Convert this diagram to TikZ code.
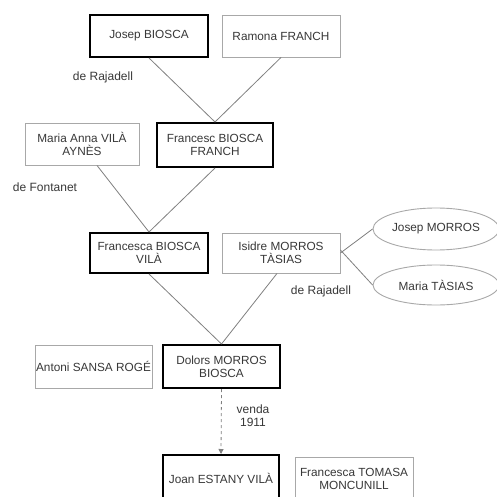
\documentclass[tikz,border=0pt]{standalone}
\usepackage{fontspec}
\setmainfont{Liberation Sans}
\usetikzlibrary{shapes.geometric,arrows.meta}
\definecolor{txt}{HTML}{383838}
\definecolor{thin}{HTML}{A8A8A8}
\definecolor{conn}{HTML}{808080}
\tikzset{
  base/.style={rectangle, align=center, inner sep=0pt, text=txt,
    font=\fontsize{11.8}{13}\selectfont, minimum height=42pt},
  thickbox/.style={base, draw=black, line width=2pt},
  thinbox/.style={base, draw=thin, line width=0.9pt},
  oval/.style={ellipse, draw=thin, line width=0.9pt, text=txt, inner sep=0pt,
    font=\fontsize{11.8}{13}\selectfont, minimum width=126pt, minimum height=42pt},
  lbl/.style={text=txt, font=\fontsize{12}{13}\selectfont, inner sep=0pt, align=left},
  connline/.style={draw=conn, line width=0.8pt},
}
\begin{document}
\begin{tikzpicture}[x=1pt,y=-1pt]
\useasboundingbox[fill=white] (0,0) rectangle (496,497);
\node[thickbox, minimum width=118pt] (jb) at (149,36) {Josep BIOSCA};
\node[thinbox, minimum width=118pt] (rf) at (281,36) {Ramona FRANCH};
\node[lbl] (r1) at (103,77) {de Rajadell};
\node[thinbox, minimum width=114pt] (ma) at (82,144) {Maria Anna VILÀ\\AYNÈS};
\node[thickbox, minimum width=116pt, minimum height=44pt] (fb) at (215,145) {Francesc BIOSCA\\FRANCH};
\node[lbl] (f1) at (45,187) {de Fontanet};
\node[thickbox, minimum width=118pt, minimum height=40pt] (fv) at (149,253) {Francesca BIOSCA\\VILÀ};
\node[thinbox, minimum width=118pt, minimum height=40pt] (im) at (281,253) {Isidre MORROS\\TÀSIAS};
\node[oval] (jm) at (436,229) {Josep MORROS};
\node[oval, minimum height=40pt] (mt) at (436,285) {Maria TÀSIAS};
\node[lbl] (r2) at (321,291) {de Rajadell};
\node[thinbox, minimum width=117pt, minimum height=43pt] (as) at (93.5,366.5) {Antoni SANSA ROGÉ};
\node[thickbox, minimum width=117pt, minimum height=43pt] (dm) at (221.5,366.5) {Dolors MORROS\\BIOSCA};
\node[lbl, align=center] (v) at (253,416) {venda\\1911};
\node[thickbox, minimum width=116pt, minimum height=46pt] (je) at (221,478) {Joan ESTANY VILÀ};
\node[thinbox, minimum width=118pt, minimum height=44pt] (ft) at (354,479) {Francesca TOMASA\\MONCUNILL};
\draw[connline] (jb.south) -- (fb.north);
\draw[connline] (rf.south) -- (fb.north);
\draw[connline] ([xshift=15pt]ma.south) -- (fv.north);
\draw[connline] (fb.south) -- (fv.north);
\draw[connline] (fv.south) -- (dm.north);
\draw[connline] ([xshift=-4pt]im.south) -- (dm.north);
\draw[connline] (im.east) -- (jm.west);
\draw[connline] ([yshift=3pt]im.east) -- (mt.west);
\draw[connline, dashed, -{Triangle[length=5pt,width=5pt]}] (dm.south) -- (je.north);
\end{tikzpicture}
\end{document}
